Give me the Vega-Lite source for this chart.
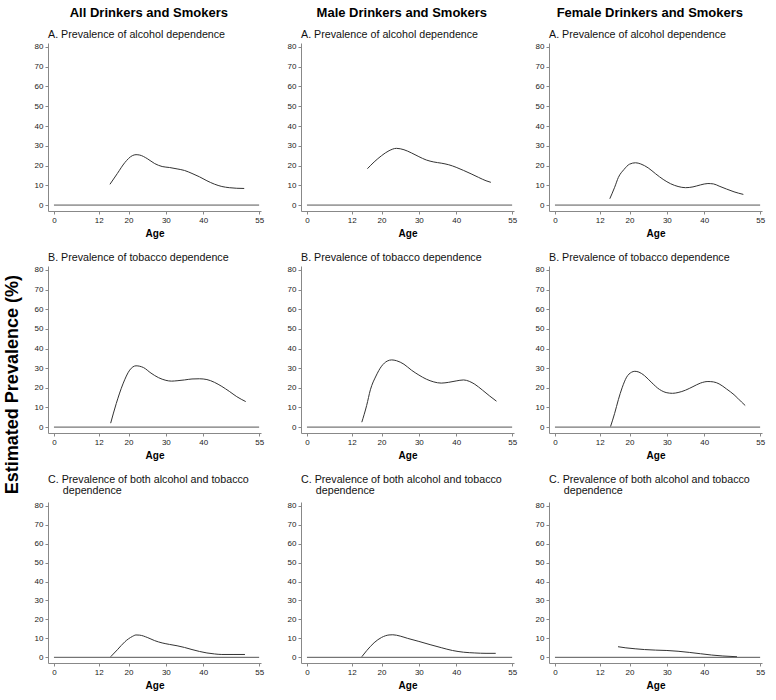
{
  "$schema": "https://vega.github.io/schema/vega-lite/v6.json",
  "background": "white",
  "padding": {"left": 4, "top": 7, "right": 3, "bottom": 3},
  "title": {"text": "Estimated Prevalence (%)", "orient": "left", "anchor": "middle", "fontSize": 18, "fontWeight": "bold", "color": "#000", "offset": 12, "dx": -36},
  "datasets": {
    "d": [
      {"g":"All","p":"A","age":15,"v":10.5},{"g":"All","p":"A","age":17,"v":16},{"g":"All","p":"A","age":19,"v":21.5},{"g":"All","p":"A","age":21,"v":25},{"g":"All","p":"A","age":22,"v":25.5},{"g":"All","p":"A","age":23,"v":25.3},{"g":"All","p":"A","age":25,"v":23.5},{"g":"All","p":"A","age":27,"v":21},{"g":"All","p":"A","age":29,"v":19.5},{"g":"All","p":"A","age":31,"v":19},{"g":"All","p":"A","age":33,"v":18.3},{"g":"All","p":"A","age":35,"v":17.5},{"g":"All","p":"A","age":37,"v":16},{"g":"All","p":"A","age":39,"v":14.3},{"g":"All","p":"A","age":41,"v":12.3},{"g":"All","p":"A","age":43,"v":10.6},{"g":"All","p":"A","age":45,"v":9.4},{"g":"All","p":"A","age":47,"v":8.8},{"g":"All","p":"A","age":49,"v":8.5},{"g":"All","p":"A","age":51,"v":8.4},
      {"g":"All","p":"B","age":15.2,"v":2},{"g":"All","p":"B","age":16.7,"v":12},{"g":"All","p":"B","age":18.5,"v":22},{"g":"All","p":"B","age":20.3,"v":29},{"g":"All","p":"B","age":22,"v":31.2},{"g":"All","p":"B","age":24,"v":30.3},{"g":"All","p":"B","age":26,"v":27.5},{"g":"All","p":"B","age":28,"v":25.2},{"g":"All","p":"B","age":30,"v":23.8},{"g":"All","p":"B","age":31.5,"v":23.4},{"g":"All","p":"B","age":33,"v":23.6},{"g":"All","p":"B","age":35,"v":24},{"g":"All","p":"B","age":37,"v":24.5},{"g":"All","p":"B","age":39,"v":24.6},{"g":"All","p":"B","age":41,"v":24.2},{"g":"All","p":"B","age":43,"v":22.8},{"g":"All","p":"B","age":45,"v":20.7},{"g":"All","p":"B","age":47,"v":18.2},{"g":"All","p":"B","age":49,"v":15.5},{"g":"All","p":"B","age":51.4,"v":13},
      {"g":"All","p":"C","age":15.2,"v":0.3},{"g":"All","p":"C","age":17,"v":4},{"g":"All","p":"C","age":19,"v":8.2},{"g":"All","p":"C","age":21,"v":11},{"g":"All","p":"C","age":22,"v":11.8},{"g":"All","p":"C","age":23,"v":11.7},{"g":"All","p":"C","age":25,"v":10.5},{"g":"All","p":"C","age":27,"v":8.8},{"g":"All","p":"C","age":29,"v":7.6},{"g":"All","p":"C","age":31,"v":6.8},{"g":"All","p":"C","age":33,"v":6.1},{"g":"All","p":"C","age":35,"v":5.2},{"g":"All","p":"C","age":37,"v":4.1},{"g":"All","p":"C","age":39,"v":3.1},{"g":"All","p":"C","age":41,"v":2.3},{"g":"All","p":"C","age":43,"v":1.8},{"g":"All","p":"C","age":45,"v":1.5},{"g":"All","p":"C","age":48,"v":1.5},{"g":"All","p":"C","age":51.2,"v":1.5},
      {"g":"Male","p":"A","age":16.2,"v":18.4},{"g":"Male","p":"A","age":18,"v":21.8},{"g":"Male","p":"A","age":20,"v":25},{"g":"Male","p":"A","age":22,"v":27.5},{"g":"Male","p":"A","age":24,"v":28.7},{"g":"Male","p":"A","age":26,"v":28},{"g":"Male","p":"A","age":28,"v":26.4},{"g":"Male","p":"A","age":30,"v":24.5},{"g":"Male","p":"A","age":32,"v":22.8},{"g":"Male","p":"A","age":34,"v":21.8},{"g":"Male","p":"A","age":36,"v":21.2},{"g":"Male","p":"A","age":38,"v":20.4},{"g":"Male","p":"A","age":40,"v":19.1},{"g":"Male","p":"A","age":42,"v":17.5},{"g":"Male","p":"A","age":44,"v":15.8},{"g":"Male","p":"A","age":46,"v":14},{"g":"Male","p":"A","age":48,"v":12.3},{"g":"Male","p":"A","age":49.3,"v":11.5},
      {"g":"Male","p":"B","age":14.7,"v":2.5},{"g":"Male","p":"B","age":16,"v":11},{"g":"Male","p":"B","age":17,"v":19},{"g":"Male","p":"B","age":18.5,"v":26},{"g":"Male","p":"B","age":20,"v":31},{"g":"Male","p":"B","age":21.5,"v":33.6},{"g":"Male","p":"B","age":22.7,"v":34.2},{"g":"Male","p":"B","age":24,"v":33.8},{"g":"Male","p":"B","age":26,"v":32},{"g":"Male","p":"B","age":28,"v":29},{"g":"Male","p":"B","age":30,"v":26.5},{"g":"Male","p":"B","age":32,"v":24.4},{"g":"Male","p":"B","age":34,"v":23},{"g":"Male","p":"B","age":36,"v":22.4},{"g":"Male","p":"B","age":38,"v":22.8},{"g":"Male","p":"B","age":40,"v":23.5},{"g":"Male","p":"B","age":42,"v":24},{"g":"Male","p":"B","age":43.5,"v":23.3},{"g":"Male","p":"B","age":45,"v":21.8},{"g":"Male","p":"B","age":47,"v":18.9},{"g":"Male","p":"B","age":49,"v":15.8},{"g":"Male","p":"B","age":50.8,"v":13.2},
      {"g":"Male","p":"C","age":14.7,"v":0.3},{"g":"Male","p":"C","age":16,"v":3.5},{"g":"Male","p":"C","age":18,"v":7.7},{"g":"Male","p":"C","age":20,"v":10.5},{"g":"Male","p":"C","age":22,"v":11.8},{"g":"Male","p":"C","age":23,"v":11.9},{"g":"Male","p":"C","age":25,"v":11.2},{"g":"Male","p":"C","age":27,"v":10},{"g":"Male","p":"C","age":30,"v":8.4},{"g":"Male","p":"C","age":33,"v":6.7},{"g":"Male","p":"C","age":36,"v":5.1},{"g":"Male","p":"C","age":39,"v":3.6},{"g":"Male","p":"C","age":42,"v":2.7},{"g":"Male","p":"C","age":45,"v":2.3},{"g":"Male","p":"C","age":48,"v":2.1},{"g":"Male","p":"C","age":50.6,"v":2.1},
      {"g":"Female","p":"A","age":14.7,"v":3.2},{"g":"Female","p":"A","age":16,"v":9},{"g":"Female","p":"A","age":17,"v":14},{"g":"Female","p":"A","age":18.5,"v":18},{"g":"Female","p":"A","age":20,"v":20.7},{"g":"Female","p":"A","age":21.6,"v":21.4},{"g":"Female","p":"A","age":23,"v":20.8},{"g":"Female","p":"A","age":25,"v":18.8},{"g":"Female","p":"A","age":27,"v":15.8},{"g":"Female","p":"A","age":29,"v":13},{"g":"Female","p":"A","age":31,"v":10.8},{"g":"Female","p":"A","age":33,"v":9.4},{"g":"Female","p":"A","age":35,"v":8.8},{"g":"Female","p":"A","age":37,"v":9.2},{"g":"Female","p":"A","age":39,"v":10.2},{"g":"Female","p":"A","age":41,"v":10.9},{"g":"Female","p":"A","age":42.5,"v":10.7},{"g":"Female","p":"A","age":44,"v":9.6},{"g":"Female","p":"A","age":46,"v":8.1},{"g":"Female","p":"A","age":48,"v":6.7},{"g":"Female","p":"A","age":50.5,"v":5.4},
      {"g":"Female","p":"B","age":14.9,"v":0.3},{"g":"Female","p":"B","age":16,"v":7},{"g":"Female","p":"B","age":17,"v":14},{"g":"Female","p":"B","age":18,"v":20},{"g":"Female","p":"B","age":19.2,"v":25.4},{"g":"Female","p":"B","age":20.5,"v":27.9},{"g":"Female","p":"B","age":21.4,"v":28.4},{"g":"Female","p":"B","age":22.5,"v":28},{"g":"Female","p":"B","age":24,"v":26.2},{"g":"Female","p":"B","age":26,"v":22.5},{"g":"Female","p":"B","age":28,"v":19.2},{"g":"Female","p":"B","age":30,"v":17.5},{"g":"Female","p":"B","age":31.5,"v":17.2},{"g":"Female","p":"B","age":33,"v":17.6},{"g":"Female","p":"B","age":35,"v":18.8},{"g":"Female","p":"B","age":37,"v":20.6},{"g":"Female","p":"B","age":39,"v":22.4},{"g":"Female","p":"B","age":41,"v":23.2},{"g":"Female","p":"B","age":42.5,"v":23},{"g":"Female","p":"B","age":44,"v":22},{"g":"Female","p":"B","age":46,"v":19.4},{"g":"Female","p":"B","age":48,"v":16.5},{"g":"Female","p":"B","age":50,"v":12.8},{"g":"Female","p":"B","age":51,"v":11},
      {"g":"Female","p":"C","age":16.9,"v":5.6},{"g":"Female","p":"C","age":19,"v":5},{"g":"Female","p":"C","age":21.5,"v":4.5},{"g":"Female","p":"C","age":24,"v":4.1},{"g":"Female","p":"C","age":27,"v":3.8},{"g":"Female","p":"C","age":30,"v":3.6},{"g":"Female","p":"C","age":33,"v":3.2},{"g":"Female","p":"C","age":36,"v":2.6},{"g":"Female","p":"C","age":39,"v":1.9},{"g":"Female","p":"C","age":42,"v":1.2},{"g":"Female","p":"C","age":45,"v":0.7},{"g":"Female","p":"C","age":48.8,"v":0.3}
    ]
  },
  "spacing": 23,
  "hconcat": [
    {"title": {"text": "All Drinkers and Smokers", "anchor": "middle", "fontSize": 13, "fontWeight": "bold", "color": "#000", "offset": 9},
     "spacing": 14,
     "vconcat": [
      {"title": {"text": "A. Prevalence of alcohol dependence", "frame": "group", "offset": 2}, "width": 213, "height": 168, "layer": [
        {"data": {"name": "d"}, "transform": [{"filter": "datum.g == 'All' && datum.p == 'A'"}], "mark": {"type": "line", "interpolate": "monotone", "color": "#333", "strokeWidth": 1},
         "encoding": {"x": {"field": "age", "type": "quantitative", "title": "Age", "scale": {"domain": [-1.6, 55.5], "nice": false, "zero": false}, "axis": {"values": [0, 12, 20, 30, 40, 55]}},
                      "y": {"field": "v", "type": "quantitative", "title": null, "scale": {"domain": [-3, 82], "nice": false}, "axis": {"values": [0, 10, 20, 30, 40, 50, 60, 70, 80], "tickCount": 9}}}},
        {"data": {"values": [{}]}, "mark": {"type": "rule", "color": "#555"}, "encoding": {"x": {"datum": 0, "type": "quantitative", "title": "Age", "axis": {"values": [0, 12, 20, 30, 40, 55]}}, "x2": {"datum": 55}, "y": {"datum": 0, "type": "quantitative", "title": null, "axis": {"values": [0, 10, 20, 30, 40, 50, 60, 70, 80], "tickCount": 9}}}}
      ]},
      {"title": {"text": "B. Prevalence of tobacco dependence", "frame": "group", "offset": 2}, "width": 213, "height": 167, "layer": [
        {"data": {"name": "d"}, "transform": [{"filter": "datum.g == 'All' && datum.p == 'B'"}], "mark": {"type": "line", "interpolate": "monotone", "color": "#333", "strokeWidth": 1},
         "encoding": {"x": {"field": "age", "type": "quantitative", "title": "Age", "scale": {"domain": [-1.6, 55.5], "nice": false, "zero": false}, "axis": {"values": [0, 12, 20, 30, 40, 55]}},
                      "y": {"field": "v", "type": "quantitative", "title": null, "scale": {"domain": [-3, 82], "nice": false}, "axis": {"values": [0, 10, 20, 30, 40, 50, 60, 70, 80], "tickCount": 9}}}},
        {"data": {"values": [{}]}, "mark": {"type": "rule", "color": "#555"}, "encoding": {"x": {"datum": 0, "type": "quantitative", "title": "Age", "axis": {"values": [0, 12, 20, 30, 40, 55]}}, "x2": {"datum": 55}, "y": {"datum": 0, "type": "quantitative", "title": null, "axis": {"values": [0, 10, 20, 30, 40, 50, 60, 70, 80], "tickCount": 9}}}}
      ]},
      {"title": {"text": ["C. Prevalence of both alcohol and tobacco", "\u200b\u00a0\u00a0\u00a0\u00a0\u00a0dependence"], "lineHeight": 10.7, "frame": "group", "offset": 5}, "width": 213, "height": 161, "layer": [
        {"data": {"name": "d"}, "transform": [{"filter": "datum.g == 'All' && datum.p == 'C'"}], "mark": {"type": "line", "interpolate": "monotone", "color": "#333", "strokeWidth": 1},
         "encoding": {"x": {"field": "age", "type": "quantitative", "title": "Age", "scale": {"domain": [-1.6, 55.5], "nice": false, "zero": false}, "axis": {"values": [0, 12, 20, 30, 40, 55]}},
                      "y": {"field": "v", "type": "quantitative", "title": null, "scale": {"domain": [-3, 82], "nice": false}, "axis": {"values": [0, 10, 20, 30, 40, 50, 60, 70, 80], "tickCount": 9}}}},
        {"data": {"values": [{}]}, "mark": {"type": "rule", "color": "#555"}, "encoding": {"x": {"datum": 0, "type": "quantitative", "title": "Age", "axis": {"values": [0, 12, 20, 30, 40, 55]}}, "x2": {"datum": 55}, "y": {"datum": 0, "type": "quantitative", "title": null, "axis": {"values": [0, 10, 20, 30, 40, 50, 60, 70, 80], "tickCount": 9}}}}
      ]}
     ]},
    {"spacing": 18,
     "hconcat": [
    {"title": {"text": "Male Drinkers and Smokers", "anchor": "middle", "fontSize": 13, "fontWeight": "bold", "color": "#000", "offset": 9},
     "spacing": 14,
     "vconcat": [
      {"title": {"text": "A. Prevalence of alcohol dependence", "frame": "group", "offset": 2}, "width": 213, "height": 168, "layer": [
        {"data": {"name": "d"}, "transform": [{"filter": "datum.g == 'Male' && datum.p == 'A'"}], "mark": {"type": "line", "interpolate": "monotone", "color": "#333", "strokeWidth": 1},
         "encoding": {"x": {"field": "age", "type": "quantitative", "title": "Age", "scale": {"domain": [-1.6, 55.5], "nice": false, "zero": false}, "axis": {"values": [0, 12, 20, 30, 40, 55]}},
                      "y": {"field": "v", "type": "quantitative", "title": null, "scale": {"domain": [-3, 82], "nice": false}, "axis": {"values": [0, 10, 20, 30, 40, 50, 60, 70, 80], "tickCount": 9}}}},
        {"data": {"values": [{}]}, "mark": {"type": "rule", "color": "#555"}, "encoding": {"x": {"datum": 0, "type": "quantitative", "title": "Age", "axis": {"values": [0, 12, 20, 30, 40, 55]}}, "x2": {"datum": 55}, "y": {"datum": 0, "type": "quantitative", "title": null, "axis": {"values": [0, 10, 20, 30, 40, 50, 60, 70, 80], "tickCount": 9}}}}
      ]},
      {"title": {"text": "B. Prevalence of tobacco dependence", "frame": "group", "offset": 2}, "width": 213, "height": 167, "layer": [
        {"data": {"name": "d"}, "transform": [{"filter": "datum.g == 'Male' && datum.p == 'B'"}], "mark": {"type": "line", "interpolate": "monotone", "color": "#333", "strokeWidth": 1},
         "encoding": {"x": {"field": "age", "type": "quantitative", "title": "Age", "scale": {"domain": [-1.6, 55.5], "nice": false, "zero": false}, "axis": {"values": [0, 12, 20, 30, 40, 55]}},
                      "y": {"field": "v", "type": "quantitative", "title": null, "scale": {"domain": [-3, 82], "nice": false}, "axis": {"values": [0, 10, 20, 30, 40, 50, 60, 70, 80], "tickCount": 9}}}},
        {"data": {"values": [{}]}, "mark": {"type": "rule", "color": "#555"}, "encoding": {"x": {"datum": 0, "type": "quantitative", "title": "Age", "axis": {"values": [0, 12, 20, 30, 40, 55]}}, "x2": {"datum": 55}, "y": {"datum": 0, "type": "quantitative", "title": null, "axis": {"values": [0, 10, 20, 30, 40, 50, 60, 70, 80], "tickCount": 9}}}}
      ]},
      {"title": {"text": ["C. Prevalence of both alcohol and tobacco", "\u200b\u00a0\u00a0\u00a0\u00a0\u00a0dependence"], "lineHeight": 10.7, "frame": "group", "offset": 5}, "width": 213, "height": 161, "layer": [
        {"data": {"name": "d"}, "transform": [{"filter": "datum.g == 'Male' && datum.p == 'C'"}], "mark": {"type": "line", "interpolate": "monotone", "color": "#333", "strokeWidth": 1},
         "encoding": {"x": {"field": "age", "type": "quantitative", "title": "Age", "scale": {"domain": [-1.6, 55.5], "nice": false, "zero": false}, "axis": {"values": [0, 12, 20, 30, 40, 55]}},
                      "y": {"field": "v", "type": "quantitative", "title": null, "scale": {"domain": [-3, 82], "nice": false}, "axis": {"values": [0, 10, 20, 30, 40, 50, 60, 70, 80], "tickCount": 9}}}},
        {"data": {"values": [{}]}, "mark": {"type": "rule", "color": "#555"}, "encoding": {"x": {"datum": 0, "type": "quantitative", "title": "Age", "axis": {"values": [0, 12, 20, 30, 40, 55]}}, "x2": {"datum": 55}, "y": {"datum": 0, "type": "quantitative", "title": null, "axis": {"values": [0, 10, 20, 30, 40, 50, 60, 70, 80], "tickCount": 9}}}}
      ]}
     ]},
    {"title": {"text": "Female Drinkers and Smokers", "anchor": "middle", "fontSize": 13, "fontWeight": "bold", "color": "#000", "offset": 9},
     "spacing": 14,
     "vconcat": [
      {"title": {"text": "A. Prevalence of alcohol dependence", "frame": "group", "offset": 2}, "width": 213, "height": 168, "layer": [
        {"data": {"name": "d"}, "transform": [{"filter": "datum.g == 'Female' && datum.p == 'A'"}], "mark": {"type": "line", "interpolate": "monotone", "color": "#333", "strokeWidth": 1},
         "encoding": {"x": {"field": "age", "type": "quantitative", "title": "Age", "scale": {"domain": [-1.6, 55.5], "nice": false, "zero": false}, "axis": {"values": [0, 12, 20, 30, 40, 55]}},
                      "y": {"field": "v", "type": "quantitative", "title": null, "scale": {"domain": [-3, 82], "nice": false}, "axis": {"values": [0, 10, 20, 30, 40, 50, 60, 70, 80], "tickCount": 9}}}},
        {"data": {"values": [{}]}, "mark": {"type": "rule", "color": "#555"}, "encoding": {"x": {"datum": 0, "type": "quantitative", "title": "Age", "axis": {"values": [0, 12, 20, 30, 40, 55]}}, "x2": {"datum": 55}, "y": {"datum": 0, "type": "quantitative", "title": null, "axis": {"values": [0, 10, 20, 30, 40, 50, 60, 70, 80], "tickCount": 9}}}}
      ]},
      {"title": {"text": "B. Prevalence of tobacco dependence", "frame": "group", "offset": 2}, "width": 213, "height": 167, "layer": [
        {"data": {"name": "d"}, "transform": [{"filter": "datum.g == 'Female' && datum.p == 'B'"}], "mark": {"type": "line", "interpolate": "monotone", "color": "#333", "strokeWidth": 1},
         "encoding": {"x": {"field": "age", "type": "quantitative", "title": "Age", "scale": {"domain": [-1.6, 55.5], "nice": false, "zero": false}, "axis": {"values": [0, 12, 20, 30, 40, 55]}},
                      "y": {"field": "v", "type": "quantitative", "title": null, "scale": {"domain": [-3, 82], "nice": false}, "axis": {"values": [0, 10, 20, 30, 40, 50, 60, 70, 80], "tickCount": 9}}}},
        {"data": {"values": [{}]}, "mark": {"type": "rule", "color": "#555"}, "encoding": {"x": {"datum": 0, "type": "quantitative", "title": "Age", "axis": {"values": [0, 12, 20, 30, 40, 55]}}, "x2": {"datum": 55}, "y": {"datum": 0, "type": "quantitative", "title": null, "axis": {"values": [0, 10, 20, 30, 40, 50, 60, 70, 80], "tickCount": 9}}}}
      ]},
      {"title": {"text": ["C. Prevalence of both alcohol and tobacco", "\u200b\u00a0\u00a0\u00a0\u00a0\u00a0dependence"], "lineHeight": 10.7, "frame": "group", "offset": 5}, "width": 213, "height": 161, "layer": [
        {"data": {"name": "d"}, "transform": [{"filter": "datum.g == 'Female' && datum.p == 'C'"}], "mark": {"type": "line", "interpolate": "monotone", "color": "#333", "strokeWidth": 1},
         "encoding": {"x": {"field": "age", "type": "quantitative", "title": "Age", "scale": {"domain": [-1.6, 55.5], "nice": false, "zero": false}, "axis": {"values": [0, 12, 20, 30, 40, 55]}},
                      "y": {"field": "v", "type": "quantitative", "title": null, "scale": {"domain": [-3, 82], "nice": false}, "axis": {"values": [0, 10, 20, 30, 40, 50, 60, 70, 80], "tickCount": 9}}}},
        {"data": {"values": [{}]}, "mark": {"type": "rule", "color": "#555"}, "encoding": {"x": {"datum": 0, "type": "quantitative", "title": "Age", "axis": {"values": [0, 12, 20, 30, 40, 55]}}, "x2": {"datum": 55}, "y": {"datum": 0, "type": "quantitative", "title": null, "axis": {"values": [0, 10, 20, 30, 40, 50, 60, 70, 80], "tickCount": 9}}}}
      ]}
     ]}
     ]}
  ],
  "config": {
    "font": "Liberation Sans",
    "view": {"stroke": null},
    "axis": {"domainColor": "#888", "tickColor": "#888", "tickSize": 3, "labelFontSize": 8, "labelColor": "#222", "labelPadding": 2, "labelFlush": false, "labelOverlap": false, "titleFontSize": 10, "titleFontWeight": "bold", "titleColor": "#000", "titlePadding": 4, "grid": false},
    "title": {"fontSize": 10.7, "fontWeight": "normal", "anchor": "start", "color": "#111"}
  }
}
